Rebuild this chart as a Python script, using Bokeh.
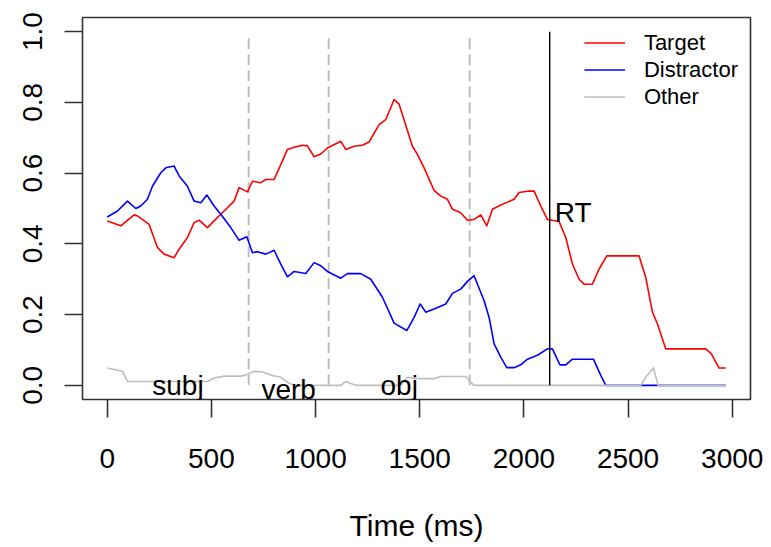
from bokeh.plotting import figure
from bokeh.models import Range1d, FixedTicker, Label, Legend, LegendItem, ColumnDataSource
from bokeh.core.properties import value
from bokeh.embed import file_html
from bokeh.resources import INLINE

# ---- data ----
target_t = [0, 65, 129, 145, 201, 241, 273, 321, 345, 385, 417, 441, 481, 513, 561, 609, 633, 673,
            697, 737, 761, 801, 833, 865, 897, 937, 961, 993, 1025, 1057, 1121, 1145, 1185, 1225,
            1257, 1305, 1337, 1377, 1401, 1465, 1489, 1521, 1569, 1601, 1633, 1657, 1697, 1729,
            1761, 1793, 1822, 1849, 1889, 1921, 1953, 1977, 2017, 2049, 2081, 2113, 2169, 2201,
            2233, 2265, 2289, 2329, 2361, 2398, 2553, 2585, 2617, 2641, 2681, 2873, 2900, 2937, 2969]
target_v = [0.465, 0.451, 0.482, 0.479, 0.455, 0.390, 0.371, 0.361, 0.385, 0.418, 0.460, 0.467,
            0.446, 0.465, 0.493, 0.521, 0.559, 0.547, 0.577, 0.573, 0.582, 0.582, 0.624, 0.667,
            0.673, 0.679, 0.677, 0.646, 0.654, 0.671, 0.690, 0.667, 0.676, 0.679, 0.688, 0.737,
            0.751, 0.808, 0.795, 0.676, 0.653, 0.615, 0.551, 0.535, 0.526, 0.498, 0.488, 0.467,
            0.469, 0.482, 0.451, 0.498, 0.510, 0.518, 0.526, 0.545, 0.549, 0.549, 0.507, 0.469,
            0.463, 0.418, 0.343, 0.300, 0.286, 0.286, 0.329, 0.366, 0.366, 0.305, 0.207, 0.174,
            0.103, 0.103, 0.089, 0.049, 0.049]

distractor_t = [0, 49, 97, 137, 161, 193, 217, 257, 281, 321, 345, 385, 417, 449, 478, 513, 545,
                593, 633, 670, 697, 721, 761, 801, 833, 865, 897, 953, 993, 1025, 1057, 1121, 1153,
                1217, 1265, 1321, 1377, 1438, 1473, 1502, 1529, 1569, 1625, 1657, 1697, 1729, 1761,
                1809, 1833, 1857, 1889, 1918, 1953, 1985, 2017, 2065, 2113, 2137, 2173, 2201, 2233,
                2334, 2369, 2393, 2969]
distractor_v = [0.476, 0.493, 0.521, 0.500, 0.507, 0.526, 0.563, 0.601, 0.615, 0.620, 0.592, 0.563,
                0.521, 0.516, 0.538, 0.507, 0.484, 0.446, 0.410, 0.420, 0.375, 0.378, 0.371, 0.382,
                0.343, 0.307, 0.322, 0.316, 0.347, 0.338, 0.322, 0.303, 0.316, 0.316, 0.300, 0.249,
                0.176, 0.155, 0.192, 0.230, 0.207, 0.216, 0.230, 0.260, 0.272, 0.294, 0.310, 0.239,
                0.192, 0.117, 0.080, 0.050, 0.050, 0.058, 0.074, 0.085, 0.103, 0.103, 0.058, 0.058,
                0.074, 0.074, 0.028, 0.000, 0.000]

other_t = [0, 73, 97, 481, 513, 561, 641, 673, 705, 745, 793, 833, 865, 897, 1121, 1145, 1169,
           1193, 1409, 1441, 1473, 1505, 1569, 1601, 1721, 1737, 1761, 2561, 2585, 2622, 2644, 2969]
other_v = [0.049, 0.040, 0.011, 0.011, 0.021, 0.026, 0.026, 0.031, 0.040, 0.038, 0.028, 0.023,
           0.009, 0.000, 0.000, 0.011, 0.005, 0.000, 0.000, 0.023, 0.020, 0.019, 0.019, 0.025,
           0.025, 0.014, 0.000, 0.000, 0.023, 0.050, 0.000, 0.000]

region_bounds = [0, 679, 1063, 1740]
region_labels = ["subj", "verb", "obj"]
region_label_y = [0.0, -0.012, 0.0]
rt_time = 2124

x_ticks = [0, 500, 1000, 1500, 2000, 2500, 3000]
x_tick_labels = ["0", "500", "1000", "1500", "2000", "2500", "3000"]
y_ticks = [0.0, 0.2, 0.4, 0.6, 0.8, 1.0]
y_tick_labels = ["0.0", "0.2", "0.4", "0.6", "0.8", "1.0"]

FONT = "Liberation Sans"
DARK = "#333333"

p = figure(width=771, height=547, output_backend="svg", toolbar_location=None,
           x_range=Range1d(-118.8, 3087.8), y_range=Range1d(-0.04, 1.04),
           min_border_left=82, min_border_right=21, min_border_top=17, min_border_bottom=148)
p.xgrid.grid_line_color = None
p.ygrid.grid_line_color = None
p.outline_line_color = DARK
p.outline_line_width = 1.6
p.background_fill_color = "white"
p.border_fill_color = "white"

for ax in (p.xaxis[0], p.yaxis[0]):
    ax.axis_line_color = None
    ax.major_tick_out = 18
    ax.major_tick_in = 0
    ax.minor_tick_out = 0
    ax.minor_tick_in = 0
    ax.major_tick_line_color = DARK
    ax.major_tick_line_width = 1.6
    ax.major_label_text_font = FONT
    ax.major_label_text_font_size = "28px"
    ax.major_label_text_color = "black"
    ax.axis_label_text_font = FONT
    ax.axis_label_text_font_size = "30px"
    ax.axis_label_text_font_style = "normal"
    ax.axis_label_text_color = "black"

p.xaxis.ticker = FixedTicker(ticks=x_ticks)
p.xaxis.major_label_overrides = {t: l for t, l in zip(x_ticks, x_tick_labels)}
p.xaxis.major_label_standoff = 31
p.xaxis.axis_label = "Time (ms)"
p.xaxis.axis_label_standoff = 38

p.yaxis.ticker = FixedTicker(ticks=y_ticks)
p.yaxis.major_label_overrides = {t: l for t, l in zip(y_ticks, y_tick_labels)}
p.yaxis.major_label_orientation = "vertical"
p.yaxis.major_label_standoff = 22

# region boundaries (dashed) and RT line
p.segment(x0=region_bounds[1:], y0=[0] * 3, x1=region_bounds[1:], y1=[0.985] * 3,
          line_color="#bebebe", line_width=2, line_dash="11 5")

r_t = p.line(target_t, target_v, line_color="red", line_width=1.6, line_join="round")
r_d = p.line(distractor_t, distractor_v, line_color="blue", line_width=1.6, line_join="round")
r_o = p.line(other_t, other_v, line_color="#bebebe", line_width=1.6, line_join="round")

p.segment(x0=[rt_time], y0=[0], x1=[rt_time], y1=[1], line_color="black", line_width=1.4)

mid_x = [(a + b) / 2 for a, b in zip(region_bounds[:-1], region_bounds[1:])]
src = ColumnDataSource(dict(x=mid_x, y=region_label_y, text=region_labels))
p.text(x="x", y="y", text="text", source=src, text_align="center", text_baseline="middle",
       text_font=value(FONT), text_font_size="28px", text_color="black")

p.add_layout(Label(x=rt_time, y=0.49, text="RT", x_offset=5, text_align="left",
                   text_baseline="middle", text_font=FONT, text_font_size="28px",
                   text_color="black"))

legend = Legend(items=[LegendItem(label="Target", renderers=[r_t]),
                       LegendItem(label="Distractor", renderers=[r_d]),
                       LegendItem(label="Other", renderers=[r_o])],
                location="top_right", border_line_color=None, background_fill_alpha=0,
                label_text_font=FONT, label_text_font_size="22px", label_text_color="black",
                glyph_width=41, glyph_height=27, label_height=27, label_standoff=19,
                spacing=0, padding=12, margin=12)
p.add_layout(legend)

open("out.html", "w").write(file_html(p, INLINE))
